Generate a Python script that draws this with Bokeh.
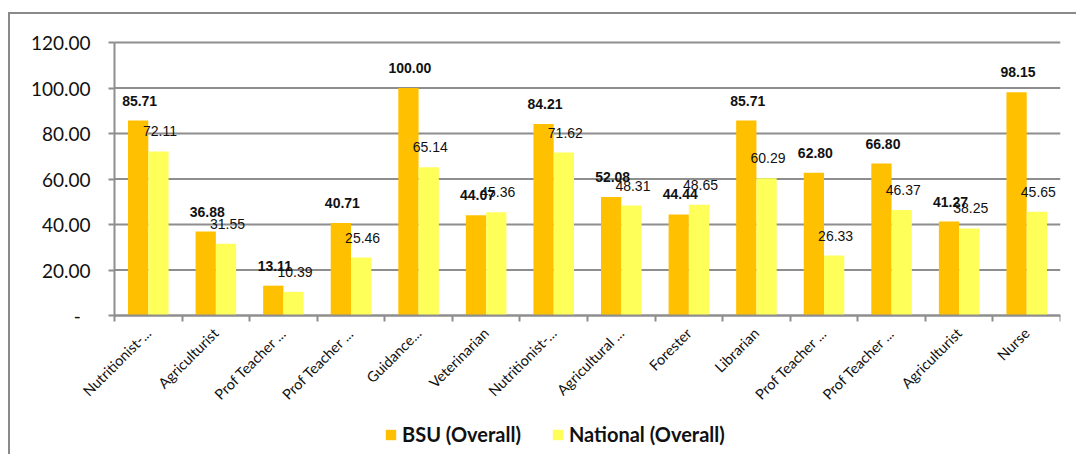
import math
from bokeh.plotting import figure
from bokeh.models import (ColumnDataSource, Range1d, FixedTicker, LabelSet,
                          Legend, LegendItem)
from bokeh.core.properties import value
from bokeh.embed import file_html
from bokeh.resources import INLINE

categories = ["Nutritionist-...", "Agriculturist", "Prof Teacher ...", "Prof Teacher ...",
              "Guidance...", "Veterinarian", "Nutritionist-...", "Agricultural ...",
              "Forester", "Librarian", "Prof Teacher ...", "Prof Teacher ...",
              "Agriculturist", "Nurse"]
bsu = [85.71, 36.88, 13.11, 40.71, 100.00, 44.07, 84.21, 52.08, 44.44, 85.71,
       62.80, 66.80, 41.27, 98.15]
national = [72.11, 31.55, 10.39, 25.46, 65.14, 45.36, 71.62, 48.31, 48.65, 60.29,
            26.33, 46.37, 38.25, 45.65]
y_ticks = [0, 20, 40, 60, 80, 100, 120]
y_tick_labels = ["-\u00a0\u00a0", "20.00", "40.00", "60.00", "80.00", "100.00", "120.00"]
series_names = ["BSU (Overall)", "National (Overall)"]

BSU_COLOR = "#FFC000"
NAT_COLOR = "#FFFF5A"
GRID = "#8E8E8E"

n = len(categories)
centers = [i + 0.5 for i in range(n)]
bounds = list(range(n + 1))

src_b = ColumnDataSource(dict(x=[c - 0.15 for c in centers], top=bsu,
                              lab=["%.2f" % v for v in bsu]))
src_n = ColumnDataSource(dict(x=[c + 0.15 for c in centers], top=national,
                              lab=["%.2f" % v for v in national]))

# layout geometry (pixels): plot area 946 x 273 px, with room around it inside the frame
PLOT_W, LEFT_PAD = 946, 104
PLOT_H, TOP_PAD, BOTTOM_PAD = 273, 14, 141
Y_TOP = y_ticks[-1]
px_per_unit = PLOT_H / Y_TOP
Y_MIN = -BOTTOM_PAD / px_per_unit
Y_MAX = Y_TOP + TOP_PAD / px_per_unit
X_MIN = -n * LEFT_PAD / PLOT_W

p = figure(width=1068, height=442, output_backend="svg", toolbar_location=None,
           x_range=Range1d(X_MIN, n), y_range=Range1d(Y_MIN, Y_MAX),
           min_border_left=0, min_border_right=18, min_border_top=28 - TOP_PAD,
           min_border_bottom=0)
p.styles = {"border-left": "2px solid #8A8A8A", "border-top": "2px solid #8A8A8A",
            "margin-top": "12px", "margin-left": "8px"}
p.outline_line_color = None
p.background_fill_color = "white"
p.xgrid.visible = False
p.ygrid.visible = False

# horizontal gridlines over the plot area only
p.segment(x0=[0] * len(y_ticks), x1=[n] * len(y_ticks), y0=y_ticks, y1=y_ticks,
          line_color=GRID, line_width=2)

rb = p.vbar(x="x", top="top", width=0.3, bottom=0, source=src_b,
            fill_color=BSU_COLOR, line_color=None)
rn = p.vbar(x="x", top="top", width=0.3, bottom=0, source=src_n,
            fill_color=NAT_COLOR, line_color=None)

lb = LabelSet(x="x", y="top", text="lab", source=src_b, x_offset=1.5, y_offset=20,
              text_align="center", text_baseline="middle",
              text_font=value("Liberation Sans"), text_font_size="14px",
              text_font_style="bold", text_color="#111111")
ln = LabelSet(x="x", y="top", text="lab", source=src_n, x_offset=1.5, y_offset=20,
              text_align="center", text_baseline="middle",
              text_font=value("Liberation Sans"), text_font_size="14px",
              text_color="#111111")
p.add_layout(lb)
p.add_layout(ln)

# y axis drawn at x = 0
p.yaxis.fixed_location = 0
p.yaxis.ticker = FixedTicker(ticks=y_ticks)
p.yaxis.bounds = (0, Y_TOP)
p.yaxis.major_label_overrides = {t: l for t, l in zip(y_ticks, y_tick_labels)}
p.yaxis.major_label_text_font = "Lato"
p.yaxis.major_label_text_font_size = "19px"
p.yaxis.major_label_text_color = "#111111"
p.yaxis.axis_line_color = GRID
p.yaxis.axis_line_width = 2
p.yaxis.major_tick_line_color = GRID
p.yaxis.major_tick_line_width = 2
p.yaxis.major_tick_in = 0
p.yaxis.major_tick_out = 6
p.yaxis.minor_tick_line_color = None
p.yaxis.major_label_standoff = 18

# x axis drawn at y = 0
p.xaxis.fixed_location = 0
p.xaxis.bounds = (0, n)
p.xaxis.ticker = FixedTicker(ticks=centers, minor_ticks=bounds)
p.xaxis.major_label_overrides = {c: l for c, l in zip(centers, categories)}
p.xaxis.major_label_orientation = math.pi / 4
p.xaxis.major_label_text_font = "Lato"
p.xaxis.major_label_text_font_size = "14.5px"
p.xaxis.major_label_text_color = "#111111"
p.xaxis.major_tick_line_color = None
p.xaxis.major_tick_in = 0
p.xaxis.major_tick_out = 6
p.xaxis.minor_tick_line_color = GRID
p.xaxis.minor_tick_line_width = 2
p.xaxis.minor_tick_in = 0
p.xaxis.minor_tick_out = 6
p.xaxis.axis_line_color = GRID
p.xaxis.axis_line_width = 2
p.xaxis.major_label_standoff = 9

legend = Legend(items=[LegendItem(label=series_names[0], renderers=[rb]),
                       LegendItem(label=series_names[1], renderers=[rn])],
                orientation="horizontal", location=(LEFT_PAD + 270, 10),
                border_line_color=None, background_fill_alpha=0,
                padding=0, margin=0, spacing=30, label_standoff=5,
                glyph_width=13, glyph_height=13,
                label_text_font="Lato", label_text_font_size="20px",
                label_text_font_style="bold", label_text_color="#111111")
p.add_layout(legend, "center")

open("out.html", "w").write(file_html(p, INLINE))
